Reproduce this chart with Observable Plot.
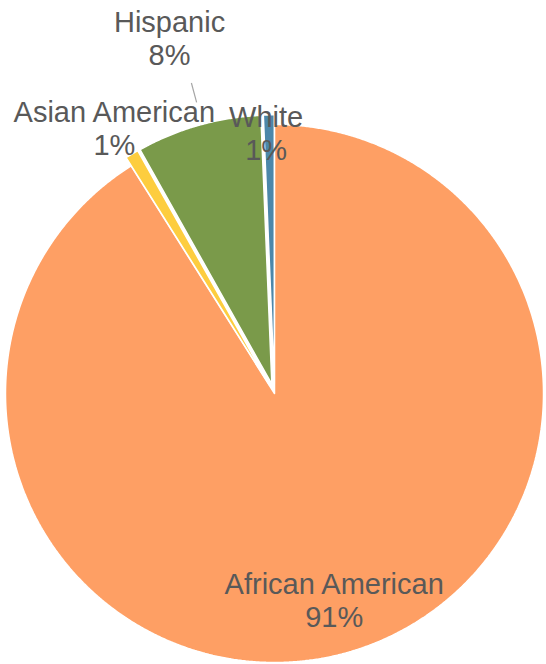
<!DOCTYPE html>
<html>
<head>
<meta charset="utf-8">
<script src="https://cdn.jsdelivr.net/npm/d3@7"></script>
<script src="https://cdn.jsdelivr.net/npm/@observablehq/plot@0.6"></script>
<style>
  html, body { margin: 0; padding: 0; background: #fff; }
  #chart { width: 546px; height: 664px; }
</style>
</head>
<body>
<div id="chart"></div>
<script>
// ---- data ----
const categories = ["African American", "Asian American", "Hispanic", "White"];
const shares = [91.05, 0.8, 7.5, 0.65];

// ---- styling / layout config ----
const palette = ["#FE9F64", "#FDCD3F", "#7A9A4A", "#4C87AA"];
const explodeBy = {"African American": 0, "Asian American": 0.036, "Hispanic": 0.036, "White": 0.036};
const labelLayout = {
  "African American": {rf: 0.80, dx: 0},
  "Asian American": {rf: 1.149, dx: -2},
  "Hispanic": {rf: 1.375, dx: -4},
  "White": {rf: 0.968, dx: -3}
};

const rows = categories.map((name, i) => ({name, share: shares[i]}));
const arcs = d3.pie().sort(null).value(d => d.share)(rows);

// slice polygons in unit-radius coordinates (y up), angle 0 = 12 o'clock, clockwise
const slicePts = [];
for (const a of arcs) {
  const name = a.data.name;
  const mid = (a.startAngle + a.endAngle) / 2;
  const ex = explodeBy[name];
  const ox = ex * Math.sin(mid), oy = ex * Math.cos(mid);
  const n = Math.max(6, Math.ceil((a.endAngle - a.startAngle) / 0.005));
  slicePts.push({name, x: ox, y: oy});
  for (let k = 0; k <= n; k++) {
    const t = a.startAngle + (a.endAngle - a.startAngle) * k / n;
    slicePts.push({name, x: ox + Math.sin(t), y: oy + Math.cos(t)});
  }
  slicePts.push({name, x: ox, y: oy});
}

const labels = arcs.map(a => {
  const name = a.data.name;
  const mid = (a.startAngle + a.endAngle) / 2;
  const L = labelLayout[name];
  return {
    name,
    text: `${name}\n${Math.round(a.data.share)}%`,
    x: L.rf * Math.sin(mid),
    y: L.rf * Math.cos(mid),
    dx: L.dx
  };
});

const hisp = arcs.find(a => a.data.name === "Hispanic");
const hm = (hisp.startAngle + hisp.endAngle) / 2 + 0.015;
const leader = [{x1: 1.12 * Math.sin(hm), y1: 1.12 * Math.cos(hm), x2: 1.195 * Math.sin(hm), y2: 1.195 * Math.cos(hm)}];

const R = 269, CX = 274, CY = 393, W = 546, H = 664;

const chart = Plot.plot({
  width: W,
  height: H,
  margin: 0,
  x: {domain: [-CX / R, (W - CX) / R], axis: null},
  y: {domain: [-(H - CY) / R, CY / R], axis: null},
  color: {domain: categories, range: palette},
  style: {fontFamily: "'Liberation Sans', Arial, Helvetica, sans-serif", background: "#fff"},
  marks: [
    Plot.line(slicePts, {x: "x", y: "y", z: "name", fill: "name", stroke: "white", strokeWidth: 1.5, strokeLinejoin: "miter"}),
    Plot.link(leader, {x1: "x1", y1: "y1", x2: "x2", y2: "y2", stroke: "#A6A6A6", strokeWidth: 1.2}),
    ...labels.map(l => Plot.text([l], {x: "x", y: "y", text: "text", dx: l.dx, fill: "#595959", fontSize: 29, lineHeight: 1.14, textAnchor: "middle"}))
  ]
});
document.getElementById("chart").appendChild(chart);
</script>
</body>
</html>
